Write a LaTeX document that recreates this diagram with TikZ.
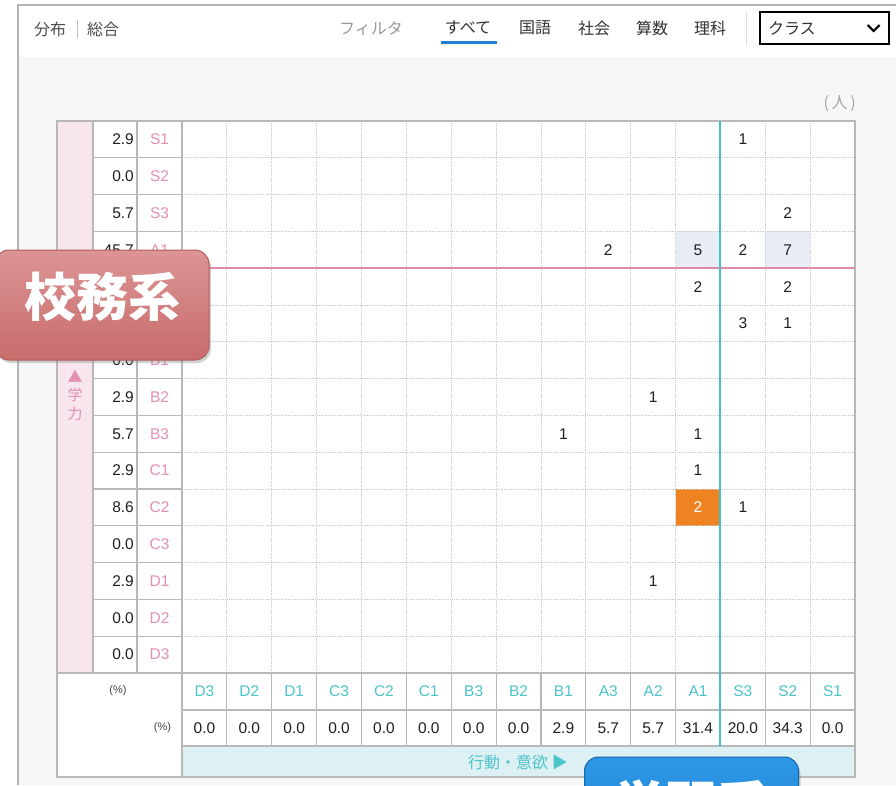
\documentclass[tikz,border=0pt]{standalone}
\usepackage{fontspec}
\setmainfont{Liberation Sans}
\newfontfamily\jp{Noto Sans CJK JP}
\usetikzlibrary{positioning, shadows}
\definecolor{framegray}{HTML}{B4B4B4}
\definecolor{bggray}{HTML}{F7F7F7}
\definecolor{gridgray}{HTML}{CDCDCD}
\definecolor{linegray}{HTML}{B8B8B8}
\definecolor{pinkfill}{HTML}{F7E6EE}
\definecolor{pinklab}{HTML}{E48FB4}
\definecolor{pinkline}{HTML}{E08AAE}
\definecolor{teallab}{HTML}{4CC4CA}
\definecolor{tealline}{HTML}{45C0C6}
\definecolor{tealband}{HTML}{DDF0F3}
\definecolor{cellhi}{HTML}{E8EDF3}
\definecolor{orangecell}{HTML}{EF8322}
\definecolor{tabblue}{HTML}{1F7FD6}
\definecolor{hdtext}{HTML}{333333}
\definecolor{redtop}{HTML}{DC9494}
\definecolor{redmid}{HTML}{D07676}
\definecolor{redbot}{HTML}{C86C6C}
\definecolor{redrim}{HTML}{B25C5C}
\definecolor{bluetop}{HTML}{2E98E6}
\definecolor{bluemid}{HTML}{1E84D8}
\definecolor{bluebot}{HTML}{1A7CD0}
\definecolor{bluerim}{HTML}{1464B0}

\begin{document}
\begin{tikzpicture}[
    x=1pt, y=-1pt,
    every node/.style={inner sep=0pt, font=\fontsize{15.5}{16}\selectfont},
    hdtext/.style={font=\jp\fontsize{16}{16}\selectfont, text=hdtext},
    rowlab/.style={text=pinklab},
    collab/.style={text=teallab},
    numtext/.style={text=black!88},
    unitlab/.style={font=\fontsize{11}{11}\selectfont, text=black!75},
    dotline/.style={draw=gridgray, densely dotted, line width=0.8pt},
    solidline/.style={draw=linegray, line width=1.1pt},
    btn/.style={rounded corners=14pt, minimum width=214pt, minimum height=110pt, text=white,
        font=\jp\bfseries\fontsize{52}{52}\selectfont, text depth=0pt, line width=1pt,
        drop shadow={opacity=0.35, shadow xshift=2pt, shadow yshift=-3pt}},
    btnred/.style={btn, draw=redrim, top color=redtop, middle color=redmid, bottom color=redbot, text height=22pt},
    btnblue/.style={btn, draw=bluerim, top color=bluetop, middle color=bluemid, bottom color=bluebot, text height=10pt}
]
\useasboundingbox (0,0) rectangle (896,785);
\clip (0,0) rectangle (896,785);

% page and header
\fill[white] (0,0) rectangle (896,785);
\fill[bggray] (19,57) rectangle (896,785);
\draw[framegray, line width=2pt] (18,785) -- (18,5) -- (896,5);

\node[hdtext, text=black!70] (hd-dist) at (50,29) {分布};
\node[hdtext, text=black!70] (hd-all) at (103,29) {総合};
\draw[black!25, line width=0.8pt] (77,20) -- (77,38);
\node[hdtext, text=black!40] (flt) at (371,29) {フィルタ};
\node[hdtext] (tab-all) at (468,28) {すべて};
\node[hdtext] (tab-jp) at (535,28) {国語};
\node[hdtext] (tab-soc) at (594,28) {社会};
\node[hdtext] (tab-math) at (652,28) {算数};
\node[hdtext] (tab-sci) at (710,28) {理科};
\draw[tabblue, line width=3pt] (441,42) -- (497,42);
\draw[black!12, line width=0.8pt] (746,12) -- (746,46);
\node[hdtext, draw=black, line width=1.2pt, minimum width=129pt, minimum height=32pt,
    text width=113pt, align=left] (sel) at (824.5,28) {クラス};
\draw[black, line width=2pt] ([xshift=-22pt,yshift=3pt]sel.east) -- ([xshift=-16pt,yshift=-3pt]sel.east) -- ([xshift=-10pt,yshift=3pt]sel.east);

\node[font=\jp\fontsize{16}{16}\selectfont, text=black!35, anchor=east] (unit) at (856,104) {(\,人\,)};

% table body
\fill[white] (57,121) rectangle (855,777);
\fill[pinkfill] (57,121) rectangle (93,673);
\fill[tealband] (182,746) rectangle (855,777);
\fill[cellhi] ({182+11*44.87},{121+3*36.8}) rectangle ({182+12*44.87},{121+4*36.8});
\fill[cellhi] ({182+13*44.87},{121+3*36.8}) rectangle ({182+14*44.87},{121+4*36.8});
\fill[orangecell] ({182+11*44.87},{121+10*36.8}) rectangle ({182+12*44.87},{121+11*36.8});

\foreach \k in {1,...,14} {
    \draw[dotline] ({182+\k*44.87},121) -- ({182+\k*44.87},673);
    \draw[dotline] (182,{121+\k*36.8}) -- (855,{121+\k*36.8});
    \draw[solidline] (93,{121+\k*36.8}) -- (182,{121+\k*36.8});
    \draw[solidline] ({182+\k*44.87},673) -- ({182+\k*44.87},746);
}
\draw[solidline] (93,121) -- (93,673);
\draw[solidline] (137,121) -- (137,673);
\draw[solidline] (182,121) -- (182,777);
\draw[solidline] (57,673) -- (855,673);
\draw[solidline] (182,710) -- (855,710);
\draw[solidline] (182,746) -- (855,746);
\draw[solidline] (57,121) rectangle (855,777);

\draw[pinkline, line width=2.2pt] (182,{121+4*36.8}) -- (855,{121+4*36.8});
\draw[tealline, line width=2.5pt] (720,121) -- (720,746);

% row labels and row percentages
\foreach \i/\lab/\pc in {1/S1/2.9, 2/S2/0.0, 3/S3/5.7, 4/A1/45.7, 7/B1/0.0, 8/B2/2.9, 9/B3/5.7,
        10/C1/2.9, 11/C2/8.6, 12/C3/0.0, 13/D1/2.9, 14/D2/0.0, 15/D3/0.0} {
    \node[numtext, anchor=east] (rp-\i) at (134,{121+(\i-0.5)*36.8}) {\pc};
    \node[rowlab] (rl-\i) at (159.5,{121+(\i-0.5)*36.8}) {\lab};
}
\node[text=pinklab, font=\jp\fontsize{15}{18.5}\selectfont, align=center] (axis-y) at (75,395) {▲\\学\\力};

% column labels and column percentages
\foreach \j/\lab/\pc in {1/D3/0.0, 2/D2/0.0, 3/D1/0.0, 4/C3/0.0, 5/C2/0.0, 6/C1/0.0, 7/B3/0.0, 8/B2/0.0,
        9/B1/2.9, 10/A3/5.7, 11/A2/5.7, 12/A1/31.4, 13/S3/20.0, 14/S2/34.3, 15/S1/0.0} {
    \node[collab] (cl-\j) at ({182+(\j-0.5)*44.87},691) {\lab};
    \node[numtext] (cp-\j) at ({182+(\j-0.5)*44.87},728) {\pc};
}
\node[unitlab] (unit-y) at (118,691) {(\%)};
\node[unitlab] (unit-x) at (162.5,728) {(\%)};
\node[text=teallab, font=\jp\fontsize{16}{16}\selectfont] (axis-x) at (518,762) {行動・意欲 ▶};

% counts
\foreach \r/\c/\v in {1/13/1, 3/14/2, 4/10/2, 4/12/5, 4/13/2, 4/14/7, 5/12/2, 5/14/2, 6/13/3, 6/14/1,
        8/11/1, 9/9/1, 9/12/1, 10/12/1, 11/13/1, 13/11/1} {
    \node[numtext] (v-\r-\c) at ({182+(\c-0.5)*44.87},{121+(\r-0.5)*36.8}) {\v};
}
\node[text=white] (v-11-12) at ({182+11.5*44.87},{121+10.5*36.8}) {2};

% overlay buttons
\node[btnred] (school) at (102,305) {校務系};
\node[btnblue] (learn) at (691.5,812) {\raisebox{-7pt}{学習系}};

\end{tikzpicture}
\end{document}
